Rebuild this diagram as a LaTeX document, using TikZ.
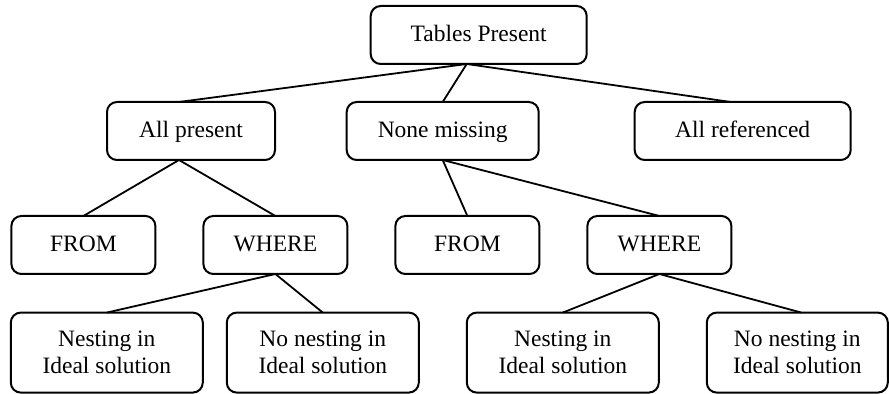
\documentclass[tikz,border=0pt]{standalone}
\usepackage{fontspec}
\setmainfont{Liberation Serif}
\usetikzlibrary{positioning}

\begin{document}
\begin{tikzpicture}[
    box/.style={rectangle, rounded corners=5pt, draw=black, line width=1pt, outer sep=0pt, text centered, align=center, minimum height=29pt, font=\fontsize{11.75pt}{13.7pt}\selectfont},
    label/.style={box, text height=0.9em, text depth=0.24em},
    small/.style={label, minimum width=72pt},
    wide/.style={box, minimum width=96pt, minimum height=40pt},
    line/.style={line width=0.9pt},
]
\useasboundingbox (0,0) rectangle (444.5pt,-197pt);

% Tree nodes
\node (tables) [label, minimum width=108pt] at (239.35pt,-17.5pt) {Tables Present};
\node (allPresent) [label, minimum width=84pt] at (95.5pt,-65.5pt) {All present};
\node (noneMissing) [label, minimum width=96pt, right=35.85pt of allPresent] {None missing};
\node (allRef) [label, minimum width=108pt, right=48pt of noneMissing] {All referenced};
\node (fromA) [small] at (41.7pt,-122.5pt) {FROM};
\node (whereA) [small, right=24pt of fromA] {WHERE};
\node (fromB) [small, right=24pt of whereA] {FROM};
\node (whereB) [small, right=24pt of fromB] {WHERE};
\node (nestA) [wide] at (53.4pt,-176.3pt) {Nesting in\\Ideal solution};
\node (noNestA) [wide, right=12pt of nestA] {No nesting in\\Ideal solution};
\node (nestB) [wide, right=24pt of noNestA] {Nesting in\\Ideal solution};
\node (noNestB) [wide, minimum width=90.5pt, right=24pt of nestB] {No nesting in\\Ideal solution};

% Connectors
\draw [line] ([xshift=-6pt]tables.south) -- ([xshift=-6pt]allPresent.north);
\draw [line] ([xshift=-6pt]tables.south) -- (noneMissing.north);
\draw [line] ([xshift=-6pt]tables.south) -- ([xshift=-6pt]allRef.north);
\draw [line] ([xshift=-6pt]allPresent.south) -- (fromA.north);
\draw [line] ([xshift=-6pt]allPresent.south) -- (whereA.north);
\draw [line] (noneMissing.south) -- (fromB.north);
\draw [line] (noneMissing.south) -- (whereB.north);
\draw [line] (whereA.south) -- (nestA.north);
\draw [line] (whereA.south) -- (noNestA.north);
\draw [line] (whereB.south) -- (nestB.north);
\draw [line] (whereB.south) -- ([xshift=2pt]noNestB.north);

\end{tikzpicture}
\end{document}
